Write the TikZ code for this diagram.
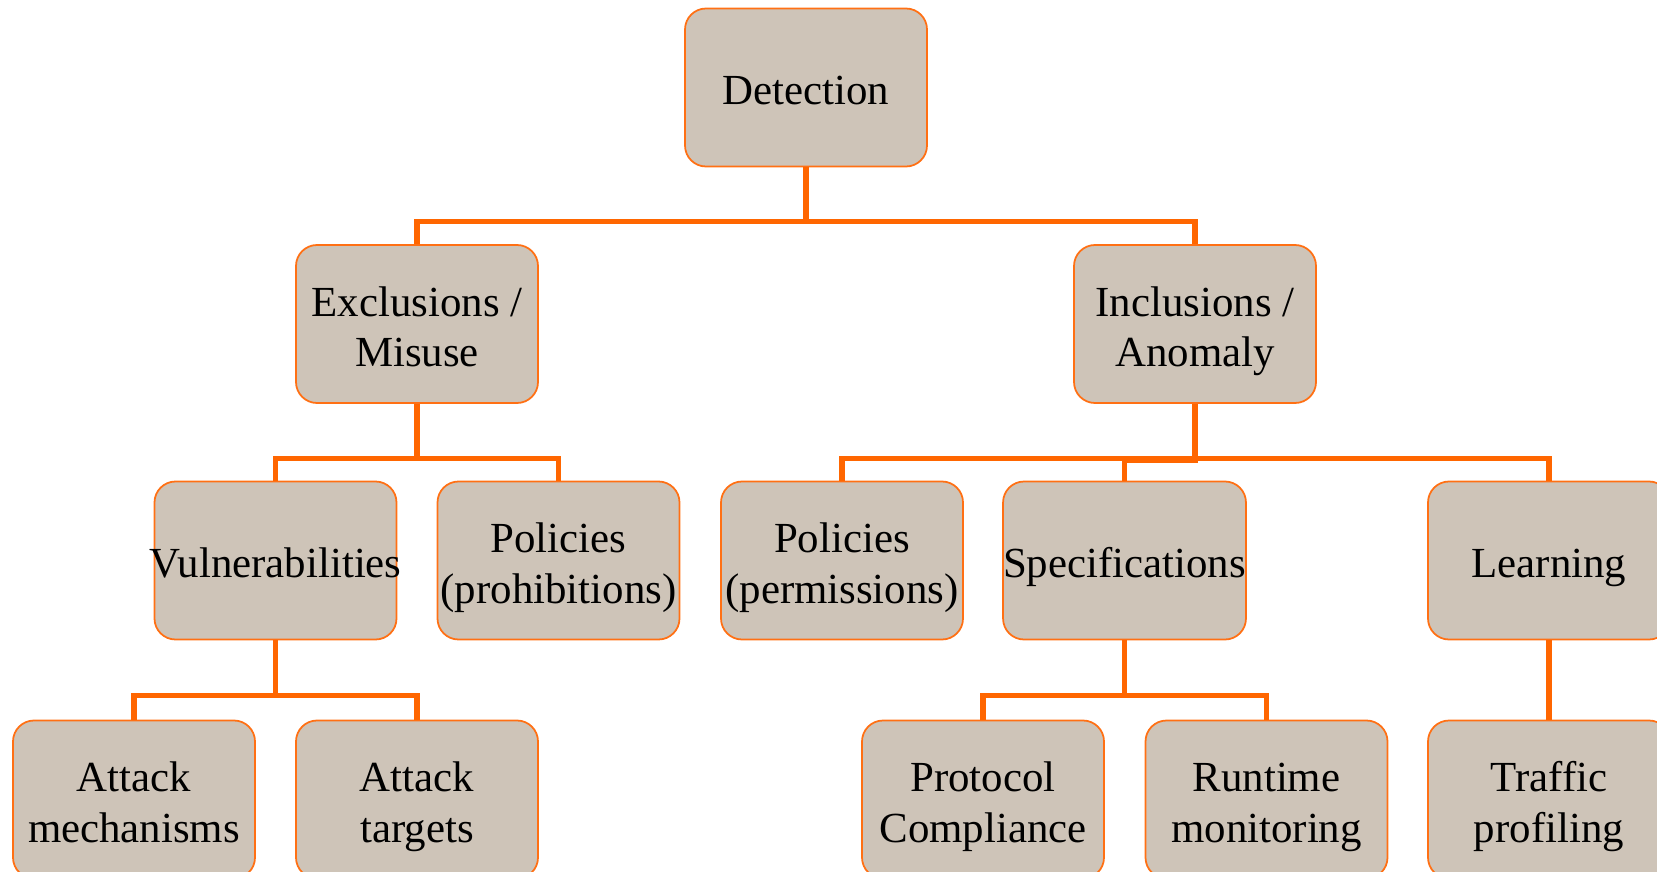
\documentclass[tikz,border=0pt]{standalone}
\usepackage{fontspec}
\setmainfont{Liberation Serif}
\usepackage{xcolor}
\usetikzlibrary{shapes, positioning}

\definecolor{boxfill}{RGB}{206,196,184}
\definecolor{linkorange}{RGB}{255,102,0}
\definecolor{boxline}{RGB}{255,112,20}

\tikzset{
    box/.style={rectangle, rounded corners=0.21cm, draw=boxline, line width=0.5pt,
        fill=boxfill, minimum width=2.42cm, minimum height=1.58cm, inner sep=0pt,
        align=center, font=\fontsize{12.2}{14.4}\selectfont,
        text height=12pt, text depth=2.4pt},
    % two lines of text: height and depth taken from the last line
    pair/.style={box, text height=26pt, text depth=1.7pt},
    link/.style={draw=linkorange, line width=1.45pt}
}

\begin{document}
\begin{tikzpicture}
        \useasboundingbox (0, 0) rectangle (16.57, -8.72);

        \node[box] (det) at (8.06, -0.875) {Detection};

        \node[pair] (excl) at (4.17, -3.24) {Exclusions /\\Misuse};
        \node[pair] (incl) at (11.95, -3.24) {Inclusions /\\Anomaly};

        \node[box] (vuln) at (2.755, -5.605) {\makebox[0pt]{Vulnerabilities}};
        \node[pair] (prohib) at (5.585, -5.605) {Policies\\(prohibitions)};
        \node[pair] (permis) at (8.42, -5.605) {Policies\\(permissions)};
        \node[box] (spec) at (11.245, -5.605) {Specifications};
        \node[box] (learn) at (15.49, -5.605) {Learning};

        \node[pair] (mech) at (1.34, -7.995) {Attack\\mechanisms};
        \node[pair] (targ) at (4.17, -7.995) {Attack\\targets};
        \node[pair] (proto) at (9.83, -7.995) {Protocol\\Compliance};
        \node[pair] (runt) at (12.665, -7.995) {Runtime\\monitoring};
        \node[pair] (traf) at (15.49, -7.995) {Traffic\\profiling};

        \draw[link] (det.south) -- ++(0, -.54) -| (excl.north)
            (det.south) -- ++(0, -.54) -| (incl.north)
            (excl.south) -- ++(0, -.55) -| (vuln.north)
            (excl.south) -- ++(0, -.55) -| (prohib.north)
            (incl.south) -- ++(0, -.55) -| (permis.north)
            (incl.south) -- ++(0, -.57) -| (spec.north)
            (incl.south) -- ++(0, -.55) -| (learn.north)
            (vuln.south) -- ++(0, -.55) -| (mech.north)
            (vuln.south) -- ++(0, -.55) -| (targ.north)
            (spec.south) -- ++(0, -.55) -| (proto.north)
            (spec.south) -- ++(0, -.55) -| (runt.north)
            (learn.south) to (traf.north);
    \end{tikzpicture}
\end{document}
